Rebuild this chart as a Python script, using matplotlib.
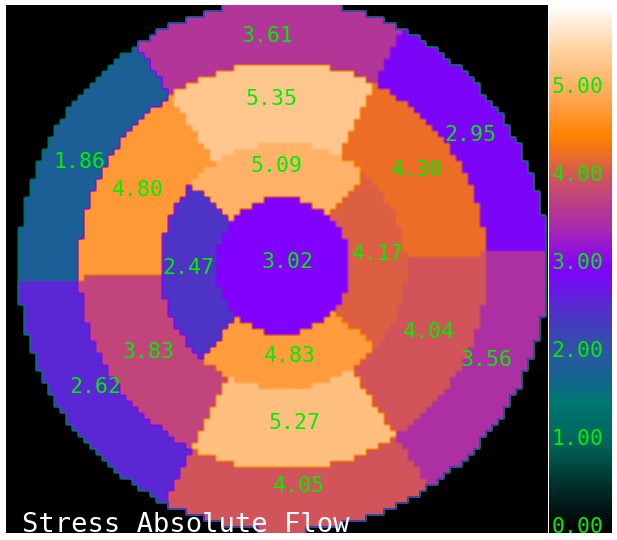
import matplotlib

matplotlib.use("Agg")
import matplotlib.pyplot as plt
import numpy as np
from matplotlib.colors import LinearSegmentedColormap

# 17-segment values, counter-clockwise starting at 3 o'clock
basal = [2.95, 3.61, 1.86, 2.62, 4.05, 3.56]
mid = [4.30, 5.35, 4.80, 3.83, 5.27, 4.04]
apical = [4.17, 5.09, 2.47, 4.83]
apex = 3.02

cbar_ticks = [0.0, 1.0, 2.0, 3.0, 4.0, 5.0]
vmax = 6.0
title = "Stress Absolute Flow"

# colour scale (value, colour)
scale_vals = [0.0, 0.5, 1.0, 1.5, 1.75, 2.0, 2.5, 3.0, 3.5, 4.0, 4.5, 5.0,
              5.5, 6.0]
scale_cols = ["#000000", "#002d28", "#00645a", "#007873", "#146490", "#285aa0",
              "#5032c8", "#8200ff", "#aa2daa", "#cd5064", "#ff8000", "#ffaa5a",
              "#ffd2a0", "#ffffff"]

cmap = LinearSegmentedColormap.from_list(
    "flow", list(zip(np.array(scale_vals) / vmax, scale_cols)))

W, H = 617, 540
x0, x1, y0, y1 = 6, 548, 5, 533
cx, cy = 283, 266
r_apex, r_apical, r_mid, r_outer = 68, 123, 204, 265
rot = 3.5

# value field on a coarse pixel grid
cell = 6
xs = np.arange(x0, x1, cell) + cell / 2
ys = np.arange(y0, y1, cell) + cell / 2
X, Y = np.meshgrid(xs, ys)
dx = X - cx
dy = cy - Y
r = np.hypot(dx, dy)
ang = (np.degrees(np.arctan2(dy, dx)) - rot) % 360

field = np.zeros_like(r)
b = (r >= r_mid) & (r < r_outer)
field[b] = np.array(basal)[(ang[b] // 60).astype(int) % 6]
m = (r >= r_apical) & (r < r_mid)
field[m] = np.array(mid)[(ang[m] // 60).astype(int) % 6]
a = (r >= r_apex) & (r < r_apical)
field[a] = np.array(apical)[(((ang[a] + 45) % 360) // 90).astype(int) % 4]
field[r < r_apex] = apex

fine = np.repeat(np.repeat(field, 2, axis=0), 2, axis=1)
ny, nx = field.shape

fig = plt.figure(figsize=(W / 100, H / 100), dpi=100)
fig.patch.set_facecolor("white")

ax = fig.add_axes([x0 / W, (H - y1) / H, (x1 - x0) / W, (y1 - y0) / H])
ax.imshow(fine, cmap=cmap, vmin=0, vmax=vmax,
          extent=[x0, x0 + cell * nx, y0 + cell * ny, y0],
          interpolation="bilinear", interpolation_stage="data", aspect="auto")
ax.set_xlim(x0, x1)
ax.set_ylim(y1, y0)
ax.set_axis_off()

lab = dict(color="#00ee00", fontsize=15.5, family="DejaVu Sans Mono",
           ha="center", va="center")
shift = 0.5


def put(values, width, radius, start=0.0):
    for i, v in enumerate(values):
        t = np.radians(start + i * width + width / 2 + rot + shift)
        ax.text(cx + radius * np.cos(t), cy - 5 - radius * np.sin(t),
                f"{v:.2f}", **lab)


put(basal, 60, 226)
put(mid, 60, 162)
put(apical, 90, 95, start=-45)
ax.text(cx + 5, cy - 4, f"{apex:.2f}", **lab)

ax.text(22, 532, title, color="white", fontsize=19.5,
        family="DejaVu Sans Mono", va="baseline", ha="left")

# colour bar
cax = fig.add_axes([549 / W, (H - y1) / H, 63 / W, (y1 - y0) / H])
grad = np.linspace(0, vmax, 512)[:, None]
cax.imshow(grad, cmap=cmap, vmin=0, vmax=vmax, origin="lower",
           extent=[0, 1, 0, vmax], aspect="auto")
cax.set_xlim(0, 1)
cax.set_ylim(0, vmax)
cax.set_axis_off()
for t in cbar_ticks:
    cax.text(0.04, t, f"{t:.2f}", color="#00ee00", fontsize=15.5,
             family="DejaVu Sans Mono", ha="left", va="baseline")

fig.savefig("out.png", dpi=100)
